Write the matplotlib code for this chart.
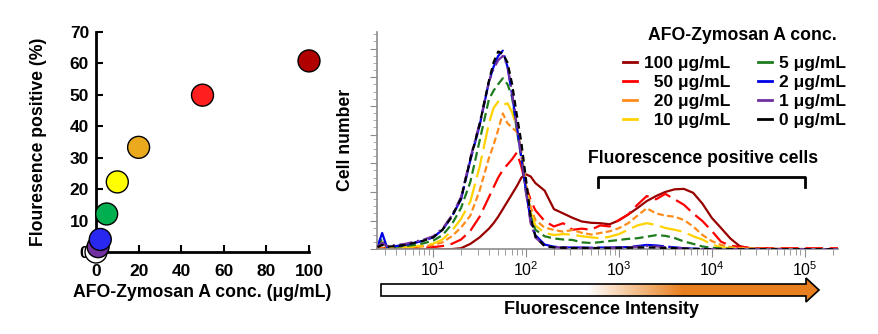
import matplotlib
matplotlib.use("Agg")
import matplotlib.pyplot as plt
import numpy as np
from matplotlib.lines import Line2D
from matplotlib.patches import Polygon
from matplotlib.ticker import FixedLocator, LogLocator, MultipleLocator, NullFormatter

plt.rcParams["font.family"] = ["Liberation Sans", "DejaVu Sans"]
plt.rcParams["mathtext.default"] = "regular"

# ---- left panel: % positive vs concentration ----
conc = [0, 1, 2, 5, 10, 20, 50, 100]
positive_pct = [0.0, 1.7, 4.0, 12.1, 22.3, 33.3, 49.9, 60.8]
dot_colors = ["#FFFFFF", "#7030A0", "#2828F0", "#00B050", "#FFFF00", "#EBAA1E", "#FF1F1F", "#B00000"]

# ---- right panel: histograms (x = log10 intensity, y = relative cell count) ----
log_fi = [0.40, 0.45, 0.50, 0.60, 0.70, 0.80, 0.90, 1.00, 1.10, 1.20, 1.30, 1.40, 1.50,
          1.60, 1.65, 1.70, 1.75, 1.80, 1.85, 1.90, 1.95, 2.00, 2.05, 2.10, 2.20, 2.30,
          2.40, 2.50, 2.60, 2.70, 2.80, 2.90, 3.00, 3.10, 3.20, 3.30, 3.40, 3.50, 3.60,
          3.70, 3.80, 3.90, 4.00, 4.10, 4.20, 4.30, 4.40, 4.50, 4.70, 5.00, 5.36]

h100 = [0, 0, 0, 0, 0, 0, 0, 0, 0, 0.1, 0.5, 2.5, 5.5,
        9.5, 12, 15, 18.5, 22, 25.5, 29, 33, 34.5, 33.5, 30.5, 27, 18.5,
        16.5, 14.5, 12.8, 12.2, 12, 11.5, 13.3, 16, 19, 22.2, 24.5, 26.4, 27.6,
        27.8, 26, 21, 14.5, 9.8, 5, 1.5, 0.5, 0.3, 0.2, 0.1, 0]
h50 = [0.5, 0.6, 0.5, 0.5, 0.6, 0.7, 0.8, 1.0, 1.5, 2.5, 4.5, 8.5, 15,
       24, 28.5, 33, 36.5, 39, 41.5, 44.5, 38, 29, 22.7, 18, 13, 10.5,
       12, 9, 9.5, 9, 11, 10.5, 13.5, 16, 20.5, 24.5, 23, 25.5, 23,
       20.5, 16.5, 13, 8.5, 3.5, 1.7, 1.1, 0.7, 0.5, 0.5, 0.5, 0.5]
h20 = [0.3, 0.5, 0.4, 0.5, 0.7, 1.0, 1.4, 2.0, 3.2, 6, 10, 15.5, 27,
       42, 48, 55, 62.5, 58, 56, 54, 45, 30, 19.5, 13.5, 10, 8.9,
       8.1, 8.9, 7.6, 6.8, 7.5, 8.3, 9.7, 12, 15.5, 18.9, 16.5, 15.5, 15,
       13.5, 10.5, 6.6, 3.8, 2, 1, 0.6, 0.4, 0.3, 0.2, 0.1, 0.1]
h10 = [0.8, 3.5, 0.8, 0.8, 1.0, 1.3, 1.8, 2.6, 4.5, 8.5, 14, 22, 38,
       58, 65, 68, 66.4, 67.2, 63, 56, 45, 29, 17, 11, 7.5, 6.6,
       7, 6.8, 6.0, 5.5, 5.1, 5.8, 7, 9, 11, 12, 11.2, 9.8, 9,
       8, 6, 4.5, 2.2, 0.9, 0.5, 0.3, 0.2, 0.1, 0.1, 0.1, 0.1]
h5 = [1.0, 5, 1.0, 1.2, 1.5, 2, 2.8, 4, 6.5, 11.5, 19, 31, 50,
      69, 73, 76, 78.7, 76, 70, 55, 42, 26, 15, 9, 6, 5,
      4.5, 4.3, 3.2, 2.9, 3.3, 3.8, 4.3, 4.8, 5.1, 5.8, 6.5, 6.2, 5.2,
      3.6, 2.5, 1.3, 0.7, 0.4, 0.2, 0.1, 0.1, 0.1, 0, 0, 0]
h2 = [1.2, 7.5, 1.2, 1.5, 2, 3, 4, 5.5, 9, 15, 23, 41, 57,
      77, 84, 89, 91.4, 84, 71, 57, 42, 27, 13, 6.5, 2.2, 1.2,
      0.9, 0.8, 0.8, 0.7, 0.8, 0.8, 0.9, 1.0, 1.5, 2.0, 1.8, 1.3, 0.9,
      0.5, 0.3, 0.2, 0.1, 0, 0, 0, 0, 0, 0, 0, 0]
h1 = [1.2, 3, 1.5, 2, 2.5, 3.5, 4.5, 6, 9.5, 15.5, 24, 42, 58,
      77, 83, 87, 89, 84.5, 72, 57, 43, 26, 12, 5.5, 1.5, 1.0,
      0.8, 0.7, 0.7, 0.6, 0.7, 0.7, 0.8, 0.9, 1.2, 1.5, 1.3, 1.0, 0.7,
      0.4, 0.2, 0.1, 0, 0, 0, 0, 0, 0, 0, 0, 0]
h0 = [1.0, 2, 1.2, 1.5, 2, 3, 4, 5.5, 9, 15, 23.5, 41.5, 57.5,
      77.5, 86, 91, 90, 86, 76, 62, 49, 32, 15, 6, 1.5, 0.9,
      0.7, 0.6, 0.6, 0.6, 0.6, 0.6, 0.7, 0.7, 0.8, 0.9, 0.8, 0.6, 0.5,
      0.3, 0.2, 0.1, 0, 0, 0, 0, 0, 0, 0, 0, 0]

series_labels = ["100 \u03bcg/mL", "  50 \u03bcg/mL", "  20 \u03bcg/mL", "  10 \u03bcg/mL",
                 "5 \u03bcg/mL", "2 \u03bcg/mL", "1 \u03bcg/mL", "0 \u03bcg/mL"]
series_data = [h100, h50, h20, h10, h5, h2, h1, h0]
line_colors = ["#990000", "#FF0000", "#FF8C1A", "#FFD200", "#1E7B1E", "#0000E6", "#7030A0", "#000000"]
line_styles = ["-", (0, (8, 3)), (0, (3, 1.5)), (0, (10, 3)), (0, (4, 2)), (0, (14, 2)),
               (0, (6, 2, 1, 2)), (0, (3, 2))]
draw_order = [0, 1, 2, 3, 4, 6, 5, 7]

W, H = 879, 334
fig = plt.figure(figsize=(W / 100, H / 100), dpi=100)

# left scatter
ax1 = fig.add_axes([96 / W, 82 / H, 213 / W, 220 / H])
ax1.scatter(conc, positive_pct, s=250, c=dot_colors, edgecolors="black",
            linewidths=1.0, zorder=3, clip_on=False)
ax1.set_xlim(0, 100)
ax1.set_ylim(0, 70)
for s in ("top", "right"):
    ax1.spines[s].set_visible(False)
for s in ("left", "bottom"):
    ax1.spines[s].set_linewidth(2)
ax1.set_xticks([0, 20, 40, 60, 80, 100])
ax1.set_yticks(range(0, 71, 10))
ax1.tick_params(direction="in", length=5, width=1.5, labelsize=12.5)
ax1.tick_params(axis="x", pad=9)
ax1.tick_params(axis="y", pad=5)
for lab in ax1.get_xticklabels() + ax1.get_yticklabels():
    lab.set_fontweight("bold")
ax1.set_xlabel("AFO-Zymosan A conc. (\u03bcg/mL)", fontsize=12.7, fontweight="bold", labelpad=3)
ax1.set_ylabel("Flouresence positive (%)", fontsize=12.7, fontweight="bold", labelpad=16)

# right histogram
ax2 = fig.add_axes([377.5 / W, (H - 249.3) / H, (838 - 377.5) / W, (249.3 - 32) / H])
xs = 10 ** np.array(log_fi)
for i in draw_order:
    ax2.plot(xs, series_data[i], color=line_colors[i], linestyle=line_styles[i],
             linewidth=1.6, zorder=2 + i * 0.1)
ax2.set_xscale("log")
ax2.set_xlim(10 ** 0.40, 10 ** 5.36)
ax2.set_ylim(0, 100)
for s in ("top", "right"):
    ax2.spines[s].set_visible(False)
for s in ("left", "bottom"):
    ax2.spines[s].set_color("#8C8C8C")
    ax2.spines[s].set_linewidth(1.2)
ax2.xaxis.set_major_locator(FixedLocator([1e1, 1e2, 1e3, 1e4, 1e5]))
ax2.set_xticklabels(["10$^{1}$", "10$^{2}$", "10$^{3}$", "10$^{4}$", "10$^{5}$"])
ax2.xaxis.set_minor_locator(LogLocator(base=10, subs=np.arange(2, 10)))
ax2.xaxis.set_minor_formatter(NullFormatter())
ax2.yaxis.set_major_locator(MultipleLocator(13.2))
ax2.yaxis.set_minor_locator(MultipleLocator(3.3))
ax2.set_yticklabels([])
ax2.tick_params(axis="x", which="major", length=6, color="#8C8C8C", labelsize=11.5, pad=2)
ax2.tick_params(axis="x", which="minor", length=4, color="#8C8C8C")
ax2.tick_params(axis="y", which="major", length=5, color="#8C8C8C")
ax2.tick_params(axis="y", which="minor", length=3, color="#A0A0A0")

# bracket for positive cells
ax2.plot([600, 600, 1e5, 1e5], [28.6, 33.4, 33.4, 28.6], color="black", linewidth=2, zorder=5)

handles = [Line2D([], [], color=c, linewidth=2) for c in line_colors]
fig.legend(handles, series_labels, ncol=2, loc="upper right",
           bbox_to_anchor=(846 / W, 1 - 56 / H), frameon=False,
           prop={"weight": "bold", "size": 12.5},
           handlelength=0.8, handletextpad=0.4, columnspacing=1.6,
           labelspacing=0.22, borderpad=0, borderaxespad=0)
fig.text(742.5 / W, 1 - 36 / H, "AFO-Zymosan A conc.", ha="center", va="center",
         fontsize=12.7, fontweight="bold")

# overlay for free text and the gradient arrow (pixel coordinates)
ov = fig.add_axes([0, 0, 1, 1], zorder=-1)
ov.patch.set_alpha(0)
ov.axis("off")
fig.text(346 / W, 1 - 140 / H, "Cell number", rotation=90, ha="center", va="center",
         fontsize=12.7, fontweight="bold")
fig.text(703 / W, 1 - 158.5 / H, "Fluorescence positive cells", ha="center", va="center",
         fontsize=12.7, fontweight="bold")

arrow_pts = [(381, 284), (806, 284), (806, 278), (819, 290), (806, 302), (806, 296), (381, 296)]
poly = Polygon(arrow_pts, closed=True, facecolor="none", edgecolor="black", linewidth=1.2, zorder=3)
ov.add_patch(poly)
gx = np.linspace(381, 819, 600)
frac = np.clip((gx - 587) / (683 - 587), 0, 1)
orange = np.array([0.91, 0.50, 0.12])
grad = np.ones((1, gx.size, 3)) * (1 - frac)[None, :, None] + orange[None, None, :] * frac[None, :, None]
im = ov.imshow(grad, extent=(381, 819, 302, 278), aspect="auto", zorder=2, interpolation="bilinear")
im.set_clip_path(poly)
ov.set_xlim(0, W)
ov.set_ylim(H, 0)
ov.text(602, 309, "Fluorescence Intensity", ha="center", va="center", fontsize=13, fontweight="bold")

fig.savefig("out.png", dpi=100)
